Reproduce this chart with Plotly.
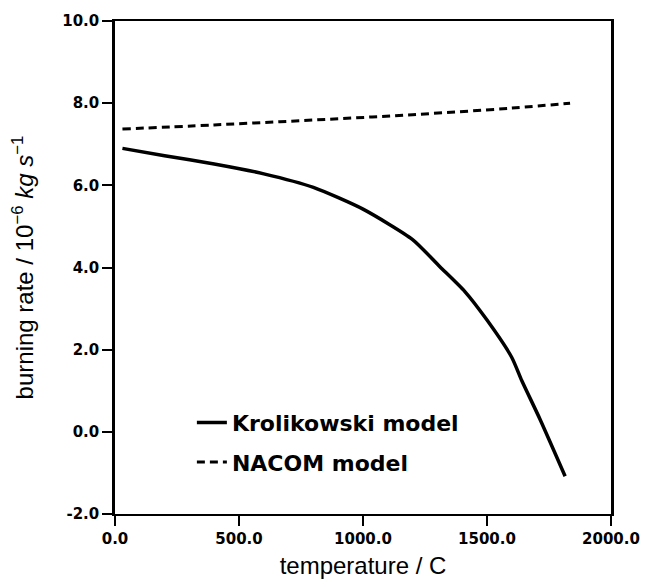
import plotly.graph_objects as go

# Krolikowski model (solid)
krol_T = [30, 200, 400, 600, 800, 1000, 1200, 1310, 1410, 1500, 1600, 1640, 1715, 1815]
krol_V = [6.90, 6.72, 6.52, 6.28, 5.95, 5.42, 4.68, 4.02, 3.42, 2.72, 1.81, 1.25, 0.29, -1.08]

# NACOM model (dashed)
nacom_T = [30, 400, 800, 1200, 1600, 1835]
nacom_V = [7.37, 7.47, 7.59, 7.72, 7.88, 8.00]

x_ticks = [0, 500, 1000, 1500, 2000]
x_labels = ["0.0", "500.0", "1000.0", "1500.0", "2000.0"]
y_ticks = [-2, 0, 2, 4, 6, 8, 10]
y_labels = ["-2.0", "0.0", "2.0", "4.0", "6.0", "8.0", "10.0"]

fig = go.Figure()
fig.add_trace(go.Scatter(x=krol_T, y=krol_V, mode="lines", name="Krolikowski model",
                         legendgroup="a",
                         line=dict(color="black", width=3.5, shape="spline", smoothing=0.6)))
fig.add_trace(go.Scatter(x=nacom_T, y=nacom_V, mode="lines", name="NACOM model",
                         legendgroup="b",
                         line=dict(color="black", width=3, dash="8px,5px", shape="spline")))

tickfont = dict(family="DejaVu Sans", size=15, color="black", weight="bold")

fig.update_layout(
    width=657, height=587,
    margin=dict(l=115, r=46, t=20, b=72),
    paper_bgcolor="white", plot_bgcolor="white",
    showlegend=True,
    legend=dict(x=0.155, y=0.228, xanchor="left", yanchor="top",
                font=dict(family="DejaVu Sans", size=22, color="black", weight="bold"),
                bgcolor="rgba(0,0,0,0)", tracegroupgap=8),
    xaxis=dict(range=[0, 2000], tickvals=x_ticks, ticktext=x_labels,
               showline=True, linecolor="black", linewidth=2, mirror=True,
               ticks="outside", ticklen=10, tickwidth=1.5, tickcolor="black",
               showgrid=False, zeroline=False, tickfont=tickfont,
               title=dict(text="temperature / C", standoff=10,
                          font=dict(family="Liberation Sans", size=24, color="black"))),
    yaxis=dict(range=[-2, 10], tickvals=y_ticks, ticktext=y_labels,
               showline=True, linecolor="black", linewidth=2.5, mirror=True,
               ticks="outside", ticklen=10, tickwidth=1.5, tickcolor="black",
               showgrid=False, zeroline=False, tickfont=tickfont,
               title=dict(text="burning rate / 10<sup>−6</sup> <i>kg s</i><sup>−1</sup>", standoff=22,
                          font=dict(family="Liberation Sans", size=24, color="black"))),
)

fig.write_html("out.html")
